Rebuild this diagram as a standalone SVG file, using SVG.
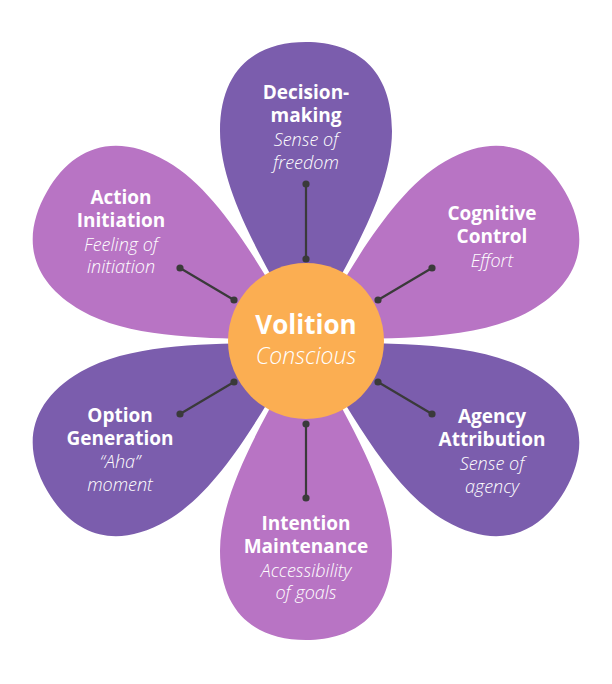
<svg xmlns="http://www.w3.org/2000/svg" width="612" height="684" viewBox="0 0 612 684">
<defs>
<path id="petal" d="M 0 0 C -26 -55 -86 -140 -86 -210 C -86 -272 -50 -299 0 -299 C 50 -299 86 -272 86 -210 C 86 -140 26 -55 0 0 Z"/>
</defs>
<style>
.dark{fill:#7B5DAD}
.light{fill:#B874C4}
.t{font-family:"Open Sans","Liberation Sans",sans-serif;fill:#fff;text-anchor:middle}
.b{font-weight:700;font-size:19px}
.i{font-style:italic;font-weight:300;font-size:18px}
.conn line{stroke:#3A3A3A;stroke-width:2.2}
.conn circle{fill:#3A3A3A}
</style>
<rect width="612" height="684" fill="#fff"/>
<g id="petals">
<use href="#petal" class="dark" transform="translate(306 341) rotate(0)"/>
<use href="#petal" class="light" transform="translate(306 341) rotate(60)"/>
<use href="#petal" class="dark" transform="translate(306 341) rotate(120)"/>
<use href="#petal" class="light" transform="translate(306 341) rotate(180)"/>
<use href="#petal" class="dark" transform="translate(306 341) rotate(240)"/>
<use href="#petal" class="light" transform="translate(306 341) rotate(300)"/>
</g>
<g id="center-circle">
<circle cx="306" cy="341" r="78" fill="#FBAE52"/>
</g>
<g class="conn" id="connectors">
<line x1="306" y1="184" x2="306" y2="259"/><circle cx="306" cy="184" r="3.6"/><circle cx="306" cy="259" r="3.6"/>
<line x1="432" y1="268" x2="378" y2="300"/><circle cx="432" cy="268" r="3.6"/><circle cx="378" cy="300" r="3.6"/>
<line x1="432" y1="414" x2="378" y2="382"/><circle cx="432" cy="414" r="3.6"/><circle cx="378" cy="382" r="3.6"/>
<line x1="306" y1="424" x2="306" y2="498"/><circle cx="306" cy="424" r="3.6"/><circle cx="306" cy="498" r="3.6"/>
<line x1="180" y1="414" x2="234" y2="382"/><circle cx="180" cy="414" r="3.6"/><circle cx="234" cy="382" r="3.6"/>
<line x1="180" y1="268" x2="234" y2="300"/><circle cx="180" cy="268" r="3.6"/><circle cx="234" cy="300" r="3.6"/>
</g>
<g id="volition">
<text class="t" x="306" y="334" font-weight="700" font-size="26">Volition</text>
<text class="t" x="306" y="364" font-style="italic" font-weight="300" font-size="23">Conscious</text>
</g>
<g id="decision-making">
<text class="t b" x="306" y="99">Decision-</text>
<text class="t b" x="306" y="122">making</text>
<text class="t i" x="306" y="146">Sense of</text>
<text class="t i" x="306" y="169">freedom</text>
</g>
<g id="cognitive-control">
<text class="t b" x="492" y="220">Cognitive</text>
<text class="t b" x="492" y="243">Control</text>
<text class="t i" x="492" y="267">Effort</text>
</g>
<g id="agency-attribution">
<text class="t b" x="492" y="423">Agency</text>
<text class="t b" x="492" y="446">Attribution</text>
<text class="t i" x="492" y="470">Sense of</text>
<text class="t i" x="492" y="493">agency</text>
</g>
<g id="intention-maintenance">
<text class="t b" x="306" y="530">Intention</text>
<text class="t b" x="306" y="553">Maintenance</text>
<text class="t i" x="306" y="577">Accessibility</text>
<text class="t i" x="306" y="599">of goals</text>
</g>
<g id="option-generation">
<text class="t b" x="120" y="422">Option</text>
<text class="t b" x="120" y="445">Generation</text>
<text class="t i" x="120" y="468">“Aha”</text>
<text class="t i" x="120" y="491">moment</text>
</g>
<g id="action-initiation">
<text class="t b" x="121" y="204">Action</text>
<text class="t b" x="121" y="227">Initiation</text>
<text class="t i" x="121" y="251">Feeling of</text>
<text class="t i" x="121" y="273">initiation</text>
</g>
</svg>
